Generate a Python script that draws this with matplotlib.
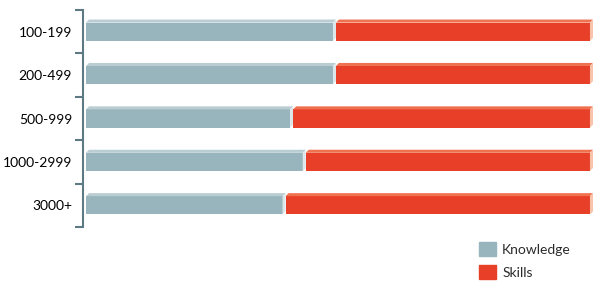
import matplotlib.pyplot as plt
import numpy as np

plt.rcParams['font.family'] = ['Lato', 'DejaVu Sans']

# data (percent of each group)
groups = ['100-199', '200-499', '500-999', '1000-2999', '3000+']
knowledge = [49, 49, 40.5, 43, 39]
skills = [100 - k for k in knowledge]

gray, gray_top, gray_side = '#98b4bd', '#b9cdd2', '#dce7e9'
red, red_top, red_side = '#e83f28', '#f0714f', '#f9c3ab'

fig = plt.figure(figsize=(6, 2.85), dpi=100)
ax = fig.add_axes([86 / 600, 58 / 285, 509 / 600, 217 / 285])

h = 0.42     # bar height (category units)
dx = 0.6     # depth in x (data units)
dy = 0.07    # depth in y
y = np.arange(len(groups))


def bar3d(y0, left, width, face, top, side):
    right = left + width
    t = y0 - h / 2
    b = y0 + h / 2
    ax.fill([left, right, right, left], [t, t, b, b], color=face, lw=0, zorder=2)
    ax.fill([left, left + dx, right + dx, right], [t, t - dy, t - dy, t],
            color=top, lw=0, zorder=2)
    ax.fill([right, right + dx, right + dx, right], [t, t - dy, b - dy, b],
            color=side, lw=0, zorder=2)


for i in range(len(groups)):
    bar3d(y[i], 0, knowledge[i], gray, gray_top, gray_side)
    bar3d(y[i], knowledge[i] + dx, skills[i] - dx, red, red_top, red_side)

ax.set_xlim(0, 101)
ax.set_ylim(len(groups) - 0.5, -0.5)
ax.set_xticks([])
ax.set_yticks(y)
ax.set_yticklabels(groups, fontsize=9.5, color='#2b2b2b')
ax.tick_params(axis='y', which='major', length=0, pad=8)
ax.set_yticks(np.arange(-0.5, len(groups)), minor=True)
ax.tick_params(axis='y', which='minor', length=6, width=1.5, color='#5d7a84')
for s in ['top', 'right', 'bottom']:
    ax.spines[s].set_visible(False)
ax.spines['left'].set_position(('outward', 2))
ax.spines['left'].set_color('#5d7a84')
ax.spines['left'].set_linewidth(1.5)

handles = [plt.Rectangle((0, 0), 1, 1, color=gray),
           plt.Rectangle((0, 0), 1, 1, color=red)]
fig.legend(handles, ['Knowledge', 'Skills'], loc='upper left',
           bbox_to_anchor=(473 / 600, 1 - 236 / 285), frameon=False,
           fontsize=10, labelcolor='#2b2b2b', handlelength=1.25,
           handleheight=1.25, handletextpad=0.45, labelspacing=0.6,
           borderaxespad=0)

fig.savefig('out.png', dpi=100)
